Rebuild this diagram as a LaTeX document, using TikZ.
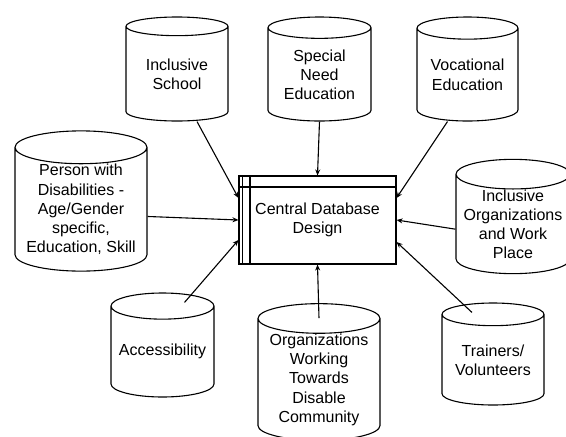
\documentclass[tikz,border=0pt]{standalone}
\usepackage{fontspec}
\setmainfont{Liberation Sans}
\usepackage{tikz}
\usetikzlibrary{shapes.geometric}
\usetikzlibrary{arrows.meta}
\usetikzlibrary{calc}
\tikzstyle{db}=[draw, cylinder, shape border rotate=90, aspect=0.3, inner sep=0pt, align=center, anchor=shape center, line width=1.1pt, font=\fontsize{16}{19.2}\selectfont]
\tikzstyle{store}=[draw, rectangle, line width=1.1pt, minimum width=157pt, minimum height=88pt, align=center, font=\fontsize{16}{19.2}\selectfont]
\tikzstyle{arr}=[-{Stealth[length=6pt,width=5pt]}, line width=1.1pt]
\begin{document}
\begin{tikzpicture}[x=1pt,y=-1pt]
\useasboundingbox (0,0) rectangle (566,437);
\node[store] (central) at (317.5,220) {Central Database\\Design};
\draw[line width=1.1pt] ($(central.north west)+(4,0)$) -- ($(central.south west)+(4,0)$);
\draw[line width=1.1pt] ($(central.north west)+(11.5,0)$) -- ($(central.south west)+(11.5,0)$);
\draw[line width=1.1pt] ($(central.north west)+(0,11.5)$) -- ($(central.north east)+(0,11.5)$);
\node[db, minimum width=102pt, minimum height=104pt] (school) at (177,69) {Inclusive\\School};
\node[db, minimum width=103pt, minimum height=104pt] (special) at (319.5,69) {Special\\Need\\Education};
\node[db, minimum width=101pt, minimum height=104pt] (vocational) at (467.5,69) {Vocational\\Education};
\node[db, minimum width=132pt, minimum height=134pt] (person) at (81,201) {Person with\\Disabilities -\\Age/Gender\\specific,\\Education, Skill};
\node[db, minimum width=114pt, minimum height=103pt] (inclorg) at (513,216.5) {Inclusive\\Organizations\\and Work\\Place};
\node[db, minimum width=103pt, minimum height=104pt] (access) at (162.5,345) {Accessibility};
\node[db, minimum width=122pt, minimum height=130pt] (orgwork) at (319,372) {Organizations\\Working\\Towards\\Disable\\Community};
\node[db, minimum width=102pt, minimum height=102pt] (trainers) at (493,354) {Trainers/\\Volunteers};
\draw[arr] ($(school.south)+(20,0)$) -- ($(central.west)+(0,-22)$);
\draw[arr] (special.south) -- (central.north);
\draw[arr] ($(vocational.south)+(-20,0)$) -- ($(central.east)+(0,-22)$);
\draw[arr] ($(person.east)+(0,7)$) -- (central.west);
\draw[arr] ($(inclorg.west)+(0,5)$) -- (central.east);
\draw[arr] ($(access.north)+(22,10)$) -- ($(central.west)+(0,20)$);
\draw[arr] ($(orgwork.north)+(0,15)$) -- (central.south);
\draw[arr] ($(trainers.north)+(-21,10)$) -- ($(central.east)+(0,22)$);
\end{tikzpicture}
\end{document}
